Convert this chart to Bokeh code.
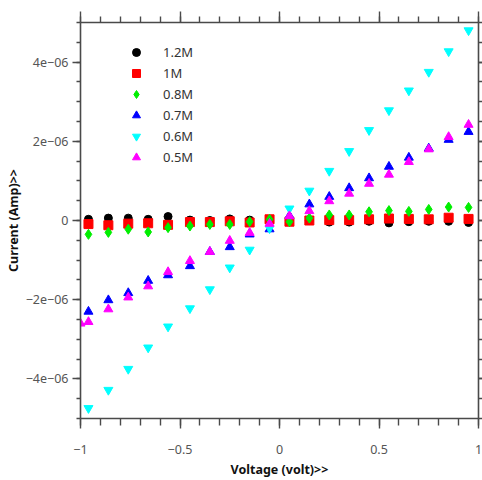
from bokeh.plotting import figure
from bokeh.models import (Range1d, LinearAxis, FixedTicker, CustomJSTickFormatter,
                          Legend, LegendItem)
from bokeh.embed import file_html
from bokeh.resources import INLINE

# ---------------- data (current in microamp, scaled to A below) ----------------
voltage = [-0.96, -0.86, -0.76, -0.66, -0.56, -0.45, -0.35, -0.25, -0.15, -0.05,
           0.05, 0.15, 0.25, 0.35, 0.45, 0.55, 0.65, 0.75, 0.85, 0.95]
voltage_05 = [-1.0] + voltage

i_12M = [0.03, 0.06, 0.06, 0.03, 0.10, 0.01, 0.00, 0.04, 0.01, 0.01,
         0.00, 0.00, -0.04, -0.04, -0.02, -0.06, -0.03, -0.02, -0.02, -0.05]
i_1M = [-0.09, -0.12, -0.08, -0.07, -0.11, -0.04, -0.04, -0.02, -0.05, 0.03,
        -0.03, 0.00, 0.01, 0.01, 0.03, 0.05, 0.04, 0.03, 0.07, 0.04]
i_08M = [-0.35, -0.30, -0.22, -0.29, -0.18, -0.14, -0.10, -0.10, -0.03, 0.03,
         -0.03, 0.06, 0.14, 0.14, 0.22, 0.25, 0.23, 0.28, 0.34, 0.33]
i_07M = [-2.30, -2.01, -1.83, -1.52, -1.38, -1.15, -0.79, -0.67, -0.35, -0.22,
         0.12, 0.41, 0.60, 0.82, 1.07, 1.36, 1.59, 1.82, 2.04, 2.24]
i_06M = [-4.74, -4.28, -3.75, -3.21, -2.68, -2.22, -1.74, -1.19, -0.74, -0.20,
         0.30, 0.75, 1.25, 1.75, 2.28, 2.78, 3.28, 3.75, 4.27, 4.80]
i_05M = [-2.60, -2.56, -2.24, -1.94, -1.66, -1.30, -1.02, -0.79, -0.51, -0.31, -0.08,
         0.11, 0.24, 0.49, 0.68, 0.93, 1.16, 1.48, 1.80, 2.11, 2.42]

series_labels = ["1.2M", "1M", "0.8M", "0.7M", "0.6M", "0.5M"]

x_ticks = [-1, -0.5, 0, 0.5, 1]
x_tick_labels = ["\u22121", "\u22120.5", "0", "0.5", "1"]
x_minor = [round(-1 + 0.1 * k, 2) for k in range(21)]
y_ticks = [-4e-6, -2e-6, 0, 2e-6, 4e-6]
y_tick_labels = ["\u22124e\u221206", "\u22122e\u221206", "0", "2e\u221206", "4e\u221206"]
y_minor = [round(-5 + 0.5 * k, 2) * 1e-6 for k in range(21)]

# ---------------- figure ----------------
p = figure(width=482, height=480, output_backend="svg", toolbar_location=None,
           x_range=Range1d(-1, 1), y_range=Range1d(-5e-6, 5e-6),
           min_border_left=80, min_border_right=4, min_border_top=22,
           min_border_bottom=62)
p.xgrid.grid_line_color = None
p.ygrid.grid_line_color = None
p.outline_line_color = None
p.background_fill_color = "white"

AX = "#4a4a4a"
LBL = "#555555"
FONT = "Noto Sans"

fmt_code = """
for (let i = 0; i < ticks_v.length; i++) {
  if (Math.abs(tick - ticks_v[i]) <= tol) return labels_v[i];
}
return "";
"""
xfmt = CustomJSTickFormatter(args=dict(ticks_v=x_ticks, labels_v=x_tick_labels, tol=1e-9), code=fmt_code)
yfmt = CustomJSTickFormatter(args=dict(ticks_v=y_ticks, labels_v=y_tick_labels, tol=1e-15), code=fmt_code)
blank = CustomJSTickFormatter(code='return "";')

def style(ax, tick_out, minor_out):
    ax.axis_line_color = AX
    ax.axis_line_width = 1.6
    ax.major_tick_line_color = AX
    ax.minor_tick_line_color = AX
    ax.major_tick_line_width = 1.4
    ax.minor_tick_line_width = 1.4
    ax.major_tick_in = 0
    ax.minor_tick_in = 0
    ax.major_tick_out = tick_out
    ax.minor_tick_out = minor_out
    ax.major_label_text_color = LBL
    ax.major_label_text_font = FONT
    ax.major_label_text_font_size = "12.5px"
    ax.axis_label_text_font = FONT
    ax.axis_label_text_font_style = "bold"
    ax.axis_label_text_font_size = "12.5px"
    ax.axis_label_text_color = "#111111"

xt = FixedTicker(ticks=x_ticks, minor_ticks=x_minor)
yt = FixedTicker(ticks=y_ticks, minor_ticks=y_minor)

xa = p.xaxis[0]
xa.ticker = xt
xa.formatter = xfmt
style(xa, 10, 7)
xa.major_label_standoff = 16
xa.axis_label = "Voltage (volt)>>"
xa.axis_label_standoff = 4

ya = p.yaxis[0]
ya.ticker = yt
ya.formatter = yfmt
style(ya, 8, 4)
ya.major_label_standoff = 4
ya.axis_label = "Current (Amp)>>"
ya.axis_label_standoff = 1

top = LinearAxis(ticker=xt, formatter=blank)
style(top, 11, 6)
top.major_label_text_font_size = "1px"
top.major_label_standoff = 0
p.add_layout(top, "above")

right = LinearAxis(ticker=yt, formatter=blank)
style(right, 4, 4)
right.major_label_text_font_size = "1px"
right.major_label_standoff = 0
p.add_layout(right, "right")

# ---------------- markers ----------------
u = 1e-6
r1 = p.scatter(voltage, [v * u for v in i_12M], marker="circle", size=8,
               fill_color="black", line_color="black")
r2 = p.scatter(voltage, [v * u for v in i_1M], marker="square", size=9,
               fill_color="#ff0000", line_color="#ff0000")
r3 = p.scatter(voltage, [v * u for v in i_08M], marker="diamond", size=10,
               fill_color="#00ee00", line_color="#00ee00")
r4 = p.scatter(voltage, [v * u for v in i_07M], marker="triangle", size=9,
               fill_color="#0000ff", line_color="#0000ff")
r5 = p.scatter(voltage, [v * u for v in i_06M], marker="inverted_triangle", size=9,
               fill_color="#00ffff", line_color="#00ffff")
r6 = p.scatter(voltage_05, [v * u for v in i_05M], marker="triangle", size=9,
               fill_color="#ff00ff", line_color="#ff00ff")

renderers = [r1, r2, r3, r4, r5, r6]
legend = Legend(items=[LegendItem(label=l, renderers=[r]) for l, r in zip(series_labels, renderers)],
                location=(46, 251), padding=0, spacing=1, margin=0,
                glyph_width=20, glyph_height=20, label_height=20,
                label_standoff=17, border_line_color=None,
                background_fill_alpha=0,
                label_text_font=FONT, label_text_font_size="13px",
                label_text_color="#333333")
p.add_layout(legend, "center")

open("out.html", "w").write(file_html(p, INLINE))
